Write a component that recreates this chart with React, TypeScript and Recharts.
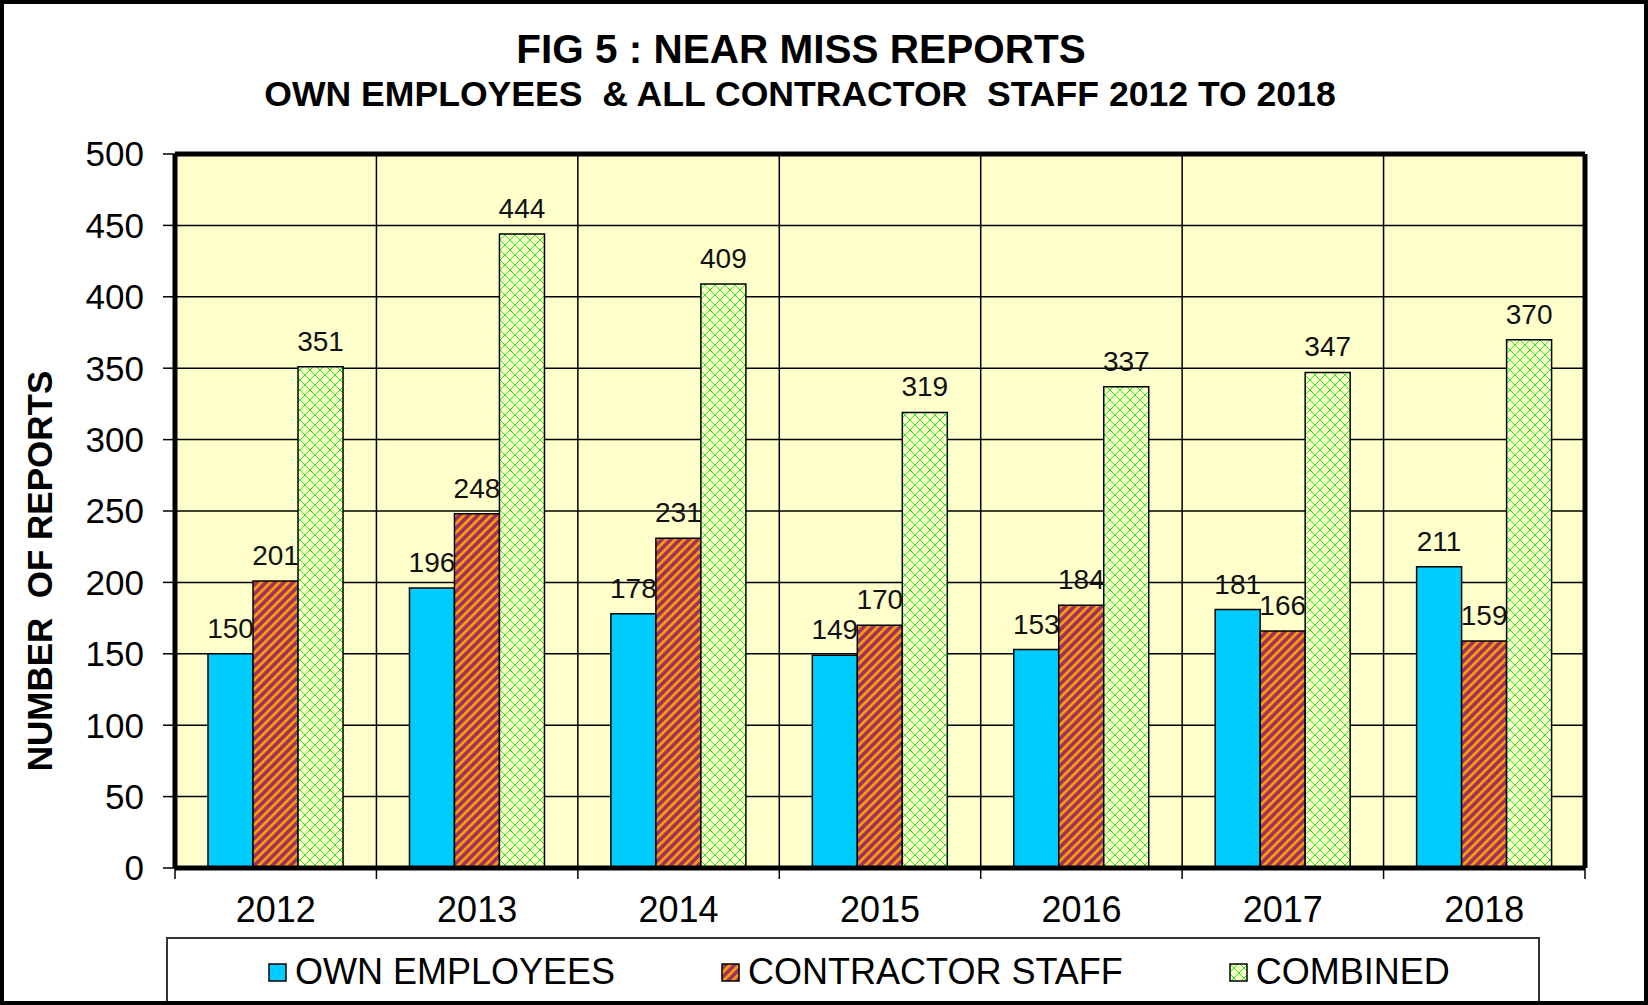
import React from 'react'
import {
  BarChart,
  Bar,
  XAxis,
  YAxis,
  CartesianGrid,
  Legend,
  LabelList
} from 'recharts'

const years = ['2012', '2013', '2014', '2015', '2016', '2017', '2018']
const ownEmployees = [150, 196, 178, 149, 153, 181, 211]
const contractorStaff = [201, 248, 231, 170, 184, 166, 159]
const combined = [351, 444, 409, 319, 337, 347, 370]
const yTicks = [0, 50, 100, 150, 200, 250, 300, 350, 400, 450, 500]

const data = years.map((year, i) => ({
  year,
  own: ownEmployees[i],
  contractor: contractorStaff[i],
  combined: combined[i]
}))

const FONT = '"Liberation Sans", Arial, sans-serif'
const BLUE = '#00CCFF'
const PLOT_BG = '#FFFFCC'
const X_TICK_MARGIN = 28

const series = [
  { key: 'own', name: 'OWN EMPLOYEES', fill: BLUE },
  { key: 'contractor', name: 'CONTRACTOR STAFF', fill: 'url(#stripes)' },
  { key: 'combined', name: 'COMBINED', fill: 'url(#hatch)' }
]

function Patterns() {
  return (
    <svg width={0} height={0} style={{ position: 'absolute' }}>
      <defs>
        <pattern id="stripes" width={6.4} height={6.4} patternUnits="userSpaceOnUse" patternTransform="rotate(45)">
          <rect width={6.4} height={6.4} fill="#993366" />
          <rect width={2.8} height={6.4} fill="#FF9900" />
        </pattern>
        <pattern id="hatch" width={10} height={10} patternUnits="userSpaceOnUse">
          <rect width={10} height={10} fill={PLOT_BG} />
          <path d="M0,0 L10,10 M10,0 L0,10" stroke="#22EE22" strokeWidth={1} />
        </pattern>
      </defs>
    </svg>
  )
}

function renderLegend() {
  return (
    <div
      style={{
        height: 68,
        boxSizing: 'border-box',
        border: '2px solid #333',
        borderBottom: 'none',
        background: '#fff',
        display: 'flex',
        alignItems: 'center',
        paddingLeft: 100,
        gap: 106,
        fontFamily: FONT,
        fontSize: 36,
        color: '#000'
      }}
    >
      {series.map(s => (
        <div key={s.key} style={{ display: 'flex', alignItems: 'center' }}>
          <svg width={19} height={19} style={{ marginRight: 8 }}>
            <rect x={1} y={1} width={17} height={17} fill={s.fill} stroke="#000" strokeWidth={1.5} />
          </svg>
          <span>{s.name}</span>
        </div>
      ))}
    </div>
  )
}

// vertical grid lines sit on the category boundaries, not the centres
const boundaryLines = ({ offset }: any) =>
  years.concat('').map((_, i) => offset.left + (i * offset.width) / years.length)

// year label plus Excel-style tick marks between the categories
function YearTick(props: any) {
  const { x, y, payload, index } = props
  const half = payload && payload.offset > 0 ? payload.offset : 100.7
  const top = y - X_TICK_MARGIN
  return (
    <g>
      <line x1={x - half} y1={top} x2={x - half} y2={top + 11} stroke="#000" strokeWidth={1.5} />
      {index === years.length - 1 && (
        <line x1={x + half} y1={top} x2={x + half} y2={top + 11} stroke="#000" strokeWidth={1.5} />
      )}
      <text x={x} y={y} dy="0.71em" textAnchor="middle" fontSize={36} fill="#000" fontFamily={FONT}>
        {payload.value}
      </text>
    </g>
  )
}

export default function App() {
  return (
    <div style={{ position: 'absolute', left: 0, top: 0, width: 1648, height: 1005, background: '#fff', fontFamily: FONT }}>
      <Patterns />
      <BarChart
        width={1648}
        height={1005}
        data={data}
        margin={{ top: 153, right: 62, bottom: 0, left: 0 }}
        barCategoryGap="16.4%"
        barGap={0}
      >
        <CartesianGrid
          fill={PLOT_BG}
          fillOpacity={1}
          stroke="#000"
          strokeWidth={1.5}
          verticalCoordinatesGenerator={boundaryLines}
        />
        <XAxis
          dataKey="year"
          height={69}
          interval={0}
          tickLine={false}
          tickSize={0}
          tickMargin={X_TICK_MARGIN}
          axisLine={{ stroke: '#000', strokeWidth: 5 }}
          tick={<YearTick />}
        />
        <XAxis
          xAxisId="top"
          dataKey="year"
          orientation="top"
          height={1}
          tick={false}
          tickLine={false}
          axisLine={{ stroke: '#000', strokeWidth: 5 }}
        />
        <YAxis
          width={175}
          domain={[0, 500]}
          ticks={yTicks}
          interval={0}
          tickSize={12}
          tickMargin={19}
          tickLine={{ stroke: '#000', strokeWidth: 1.5 }}
          axisLine={{ stroke: '#000', strokeWidth: 5 }}
          tick={{ fontSize: 35, fill: '#000', fontFamily: FONT }}
        />
        <YAxis
          yAxisId="right"
          orientation="right"
          width={1}
          domain={[0, 500]}
          tick={false}
          tickLine={false}
          axisLine={{ stroke: '#000', strokeWidth: 5 }}
        />
        <Legend
          verticalAlign="bottom"
          content={renderLegend}
          wrapperStyle={{ left: 166, bottom: 0, width: 1374, height: 68 }}
        />
        {series.map(s => (
          <Bar
            key={s.key}
            dataKey={s.key}
            name={s.name}
            fill={s.fill}
            stroke="#000"
            strokeWidth={1.5}
            isAnimationActive={false}
          >
            <LabelList dataKey={s.key} position="top" offset={16} fontSize={28} fill="#111" fontFamily={FONT} />
          </Bar>
        ))}
      </BarChart>
      <div
        style={{
          position: 'absolute',
          left: 301,
          top: 29,
          width: 1000,
          textAlign: 'center',
          fontSize: 40.5,
          lineHeight: '40px',
          fontWeight: 'bold',
          color: '#000'
        }}
      >
        FIG 5 : NEAR MISS REPORTS
      </div>
      <div
        style={{
          position: 'absolute',
          left: 200,
          top: 77,
          width: 1200,
          textAlign: 'center',
          fontSize: 35.6,
          lineHeight: '35px',
          fontWeight: 'bold',
          whiteSpace: 'pre',
          color: '#000'
        }}
      >
        {'OWN EMPLOYEES  & ALL CONTRACTOR  STAFF 2012 TO 2018'}
      </div>
      <div
        style={{
          position: 'absolute',
          left: 40 - 250,
          top: 571 - 18,
          width: 500,
          height: 36,
          textAlign: 'center',
          fontSize: 35,
          lineHeight: '36px',
          fontWeight: 'bold',
          whiteSpace: 'pre',
          color: '#000',
          transform: 'rotate(-90deg)'
        }}
      >
        {'NUMBER  OF REPORTS'}
      </div>
      <div
        style={{
          position: 'absolute',
          left: 0,
          top: 0,
          width: 1648,
          height: 1005,
          boxSizing: 'border-box',
          border: '4px solid #000',
          pointerEvents: 'none'
        }}
      />
    </div>
  )
}
